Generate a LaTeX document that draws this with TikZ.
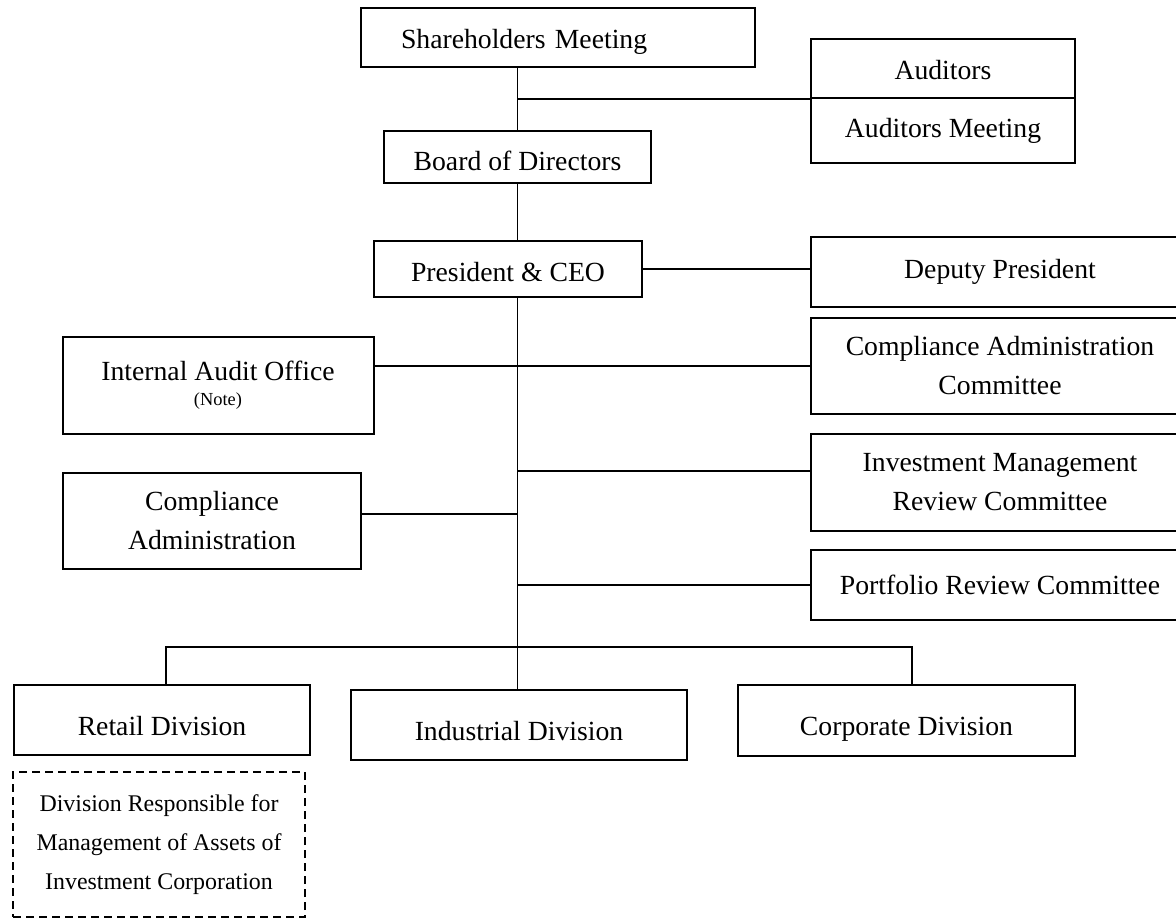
\documentclass[tikz,border=0pt]{standalone}
\usepackage{fontspec}
\setmainfont{Liberation Serif}
\newcommand\mainsize{\fontsize{13.85}{19.5}\selectfont}
\newcommand\notesize{\fontsize{9.2}{11}\selectfont}
\newcommand\dashsize{\fontsize{11.95}{19.5}\selectfont}

\begin{document}
\begin{tikzpicture}[x=0.5pt, y=-0.5pt, font=\mainsize,
    box/.style={draw, line width=1pt, align=center, inner sep=0pt},
    lowtext/.style={text height=#1, text depth=0pt},
    link/.style={line width=0.75pt}]
    \useasboundingbox (0,0) rectangle (1176,918);

    \node[box, minimum height=29.5pt, text width=157pt, inner xsep=20pt, align=left, lowtext=10.5pt] (share) at (558,37.5) {Shareholders Meeting};
    \node[box, minimum width=132pt, minimum height=29.5pt, lowtext=11pt] (aud) at (943,68.5) {Auditors};
    \node[box, minimum width=132pt, minimum height=32.5pt] (audmeet) at (943,130.5) {Auditors Meeting};
    \node[box, minimum width=133.5pt, minimum height=26pt, lowtext=13pt] (board) at (517.5,157) {Board of Directors};
    \node[box, minimum width=134pt, minimum height=28pt, lowtext=12pt] (pres) at (508,269) {President \& CEO};

    % committees on the right
    \foreach \name/\y/\h/\txt in {dep/272/35/{Deputy President},
        cac/366/48/{Compliance Administration\\Committee},
        imrc/482.5/48.5/{Investment Management\\Review Committee},
        prc/585/35/{Portfolio Review Committee}} {
        \node[box, minimum width=189pt, minimum height=\h pt] (\name) at (1000,\y) {\txt};
    }

    \node[box, minimum width=155.5pt, minimum height=48.5pt] (audit) at (218,385.5) {Internal Audit Office\\[-7pt]{\notesize (Note)}};
    \node[box, minimum width=149pt, minimum height=48pt] (comp) at (212,521) {Compliance\\Administration};

    % divisions
    \node[box, minimum width=148pt, minimum height=35pt, lowtext=15pt] (retail) at (162,720) {Retail Division};
    \node[box, minimum width=168pt, minimum height=35pt, lowtext=15pt] (indus) at (519,725) {Industrial Division};
    \node[box, minimum width=168.5pt, minimum height=35.5pt, lowtext=14.5pt] (corp) at (906.5,720.5) {Corporate Division};
    \node[box, dash pattern=on 4pt off 2.5pt, font=\dashsize, minimum width=146pt, minimum height=72.5pt] (assets) at (159,844.5) {Division Responsible for\\Management of Assets of\\Investment Corporation};

    % lines
    \draw[link] (share.south -| board.north) -- (board.north);
    \draw[link] (aud.south west) -- (aud.south west -| board.north);
    \draw[link] (board.south) -- (board.south |- pres.north);
    \draw[link] (pres.east) -- (pres.east -| dep.west);
    \draw[link] (board.south |- pres.south) -- (board.south |- indus.north);
    \draw[link] (audit.east |- cac.west) -- (cac.west);
    \draw[link] ([yshift=5.75pt]imrc.west) -- ([yshift=5.75pt]imrc.west -| board.south);
    \draw[link] ([yshift=3.5pt]comp.east) -- ([yshift=3.5pt]comp.east -| board.south);
    \draw[link] (prc.west) -- (prc.west -| board.south);
    \coordinate (bus) at (518,647);
    \draw[link] ([xshift=2pt]retail.north) -- ([xshift=2pt]retail.north |- bus) -- ([xshift=2.75pt]corp.north |- bus) -- ([xshift=2.75pt]corp.north);
\end{tikzpicture}
\end{document}
